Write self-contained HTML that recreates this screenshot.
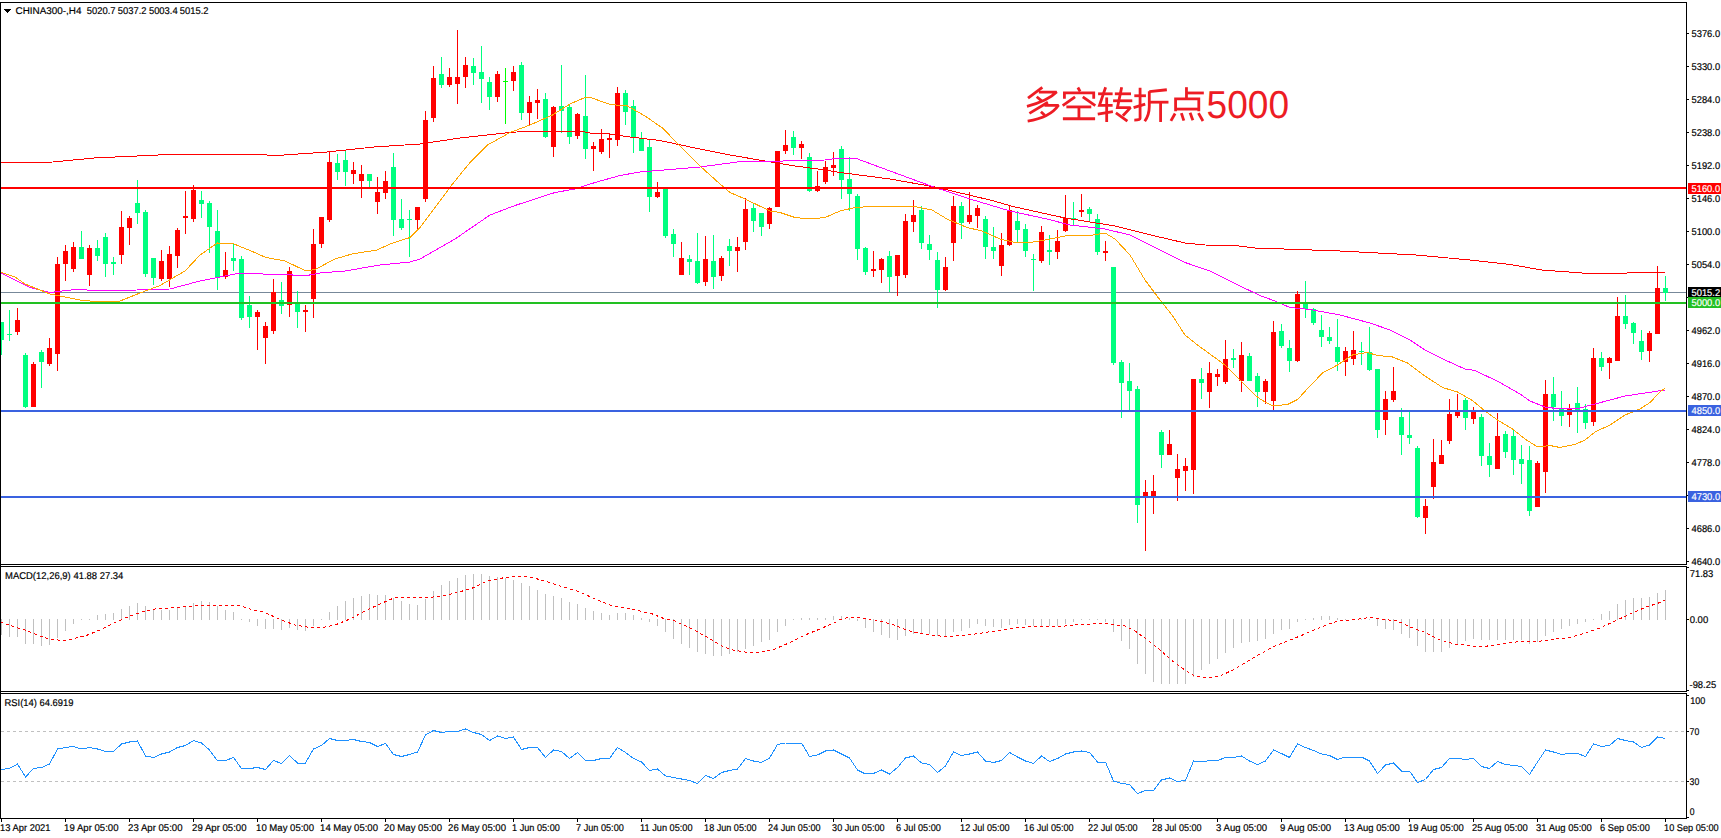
<!DOCTYPE html><html><head><meta charset="utf-8"><title>CHINA300 H4</title>
<style>html,body{margin:0;padding:0;background:#fff;overflow:hidden}svg{display:block}text{font-family:"Liberation Sans",sans-serif;font-size:9.8px;fill:#000;stroke:#000;stroke-width:0.18px;text-rendering:geometricPrecision}</style></head><body>
<svg width="1721" height="838" viewBox="0 0 1721 838">
<rect x="0" y="0" width="1721" height="838" fill="#fff"/>
<defs><clipPath id="cm"><rect x="1" y="3" width="1685" height="561"/></clipPath><clipPath id="c2"><rect x="1" y="567" width="1685" height="124"/></clipPath><clipPath id="c3"><rect x="1" y="694" width="1685" height="124"/></clipPath></defs>
<g clip-path="url(#cm)">
<rect x="1" y="292" width="1685" height="1" fill="#778899" shape-rendering="crispEdges"/>
<g shape-rendering="crispEdges">
<rect x="1" y="322" width="1" height="33" fill="#00ff7f"/>
<rect x="-1" y="322" width="5" height="18" fill="#00ff7f"/>
<rect x="9" y="310" width="1" height="31" fill="#00ff7f"/>
<rect x="7" y="334" width="5" height="1" fill="#00ff7f"/>
<rect x="17" y="308" width="1" height="27" fill="#ff0000"/>
<rect x="15" y="320" width="5" height="12" fill="#ff0000"/>
<rect x="25" y="353" width="1" height="55" fill="#00ff7f"/>
<rect x="23" y="355" width="5" height="52" fill="#00ff7f"/>
<rect x="33" y="362" width="1" height="45" fill="#ff0000"/>
<rect x="31" y="364" width="5" height="43" fill="#ff0000"/>
<rect x="41" y="350" width="1" height="38" fill="#00ff7f"/>
<rect x="39" y="352" width="5" height="10" fill="#00ff7f"/>
<rect x="49" y="338" width="1" height="28" fill="#ff0000"/>
<rect x="47" y="348" width="5" height="16" fill="#ff0000"/>
<rect x="57" y="257" width="1" height="114" fill="#ff0000"/>
<rect x="55" y="264" width="5" height="90" fill="#ff0000"/>
<rect x="65" y="245" width="1" height="36" fill="#ff0000"/>
<rect x="63" y="251" width="5" height="13" fill="#ff0000"/>
<rect x="73" y="242" width="1" height="30" fill="#ff0000"/>
<rect x="71" y="247" width="5" height="22" fill="#ff0000"/>
<rect x="81" y="231" width="1" height="28" fill="#00ff7f"/>
<rect x="79" y="247" width="5" height="12" fill="#00ff7f"/>
<rect x="89" y="245" width="1" height="41" fill="#ff0000"/>
<rect x="87" y="248" width="5" height="27" fill="#ff0000"/>
<rect x="97" y="240" width="1" height="21" fill="#00ff7f"/>
<rect x="95" y="248" width="5" height="8" fill="#00ff7f"/>
<rect x="105" y="233" width="1" height="44" fill="#00ff7f"/>
<rect x="103" y="237" width="5" height="27" fill="#00ff7f"/>
<rect x="113" y="257" width="1" height="18" fill="#00ff7f"/>
<rect x="111" y="262" width="5" height="2" fill="#00ff7f"/>
<rect x="121" y="211" width="1" height="53" fill="#ff0000"/>
<rect x="119" y="227" width="5" height="28" fill="#ff0000"/>
<rect x="129" y="216" width="1" height="29" fill="#ff0000"/>
<rect x="127" y="218" width="5" height="10" fill="#ff0000"/>
<rect x="137" y="180" width="1" height="44" fill="#00ff7f"/>
<rect x="135" y="203" width="5" height="10" fill="#00ff7f"/>
<rect x="145" y="210" width="1" height="67" fill="#00ff7f"/>
<rect x="143" y="212" width="5" height="62" fill="#00ff7f"/>
<rect x="153" y="258" width="1" height="27" fill="#00ff7f"/>
<rect x="151" y="258" width="5" height="20" fill="#00ff7f"/>
<rect x="161" y="250" width="1" height="31" fill="#ff0000"/>
<rect x="159" y="261" width="5" height="18" fill="#ff0000"/>
<rect x="169" y="246" width="1" height="41" fill="#ff0000"/>
<rect x="167" y="254" width="5" height="25" fill="#ff0000"/>
<rect x="177" y="228" width="1" height="40" fill="#ff0000"/>
<rect x="175" y="230" width="5" height="26" fill="#ff0000"/>
<rect x="185" y="191" width="1" height="43" fill="#ff0000"/>
<rect x="183" y="216" width="5" height="2" fill="#ff0000"/>
<rect x="193" y="185" width="1" height="37" fill="#ff0000"/>
<rect x="191" y="190" width="5" height="29" fill="#ff0000"/>
<rect x="201" y="191" width="1" height="27" fill="#00ff7f"/>
<rect x="199" y="200" width="5" height="4" fill="#00ff7f"/>
<rect x="209" y="201" width="1" height="52" fill="#00ff7f"/>
<rect x="207" y="203" width="5" height="24" fill="#00ff7f"/>
<rect x="217" y="210" width="1" height="80" fill="#00ff7f"/>
<rect x="215" y="231" width="5" height="47" fill="#00ff7f"/>
<rect x="225" y="252" width="1" height="27" fill="#ff0000"/>
<rect x="223" y="270" width="5" height="7" fill="#ff0000"/>
<rect x="233" y="243" width="1" height="28" fill="#00ff7f"/>
<rect x="231" y="258" width="5" height="3" fill="#00ff7f"/>
<rect x="241" y="256" width="1" height="64" fill="#00ff7f"/>
<rect x="239" y="259" width="5" height="59" fill="#00ff7f"/>
<rect x="249" y="296" width="1" height="32" fill="#00ff7f"/>
<rect x="247" y="305" width="5" height="12" fill="#00ff7f"/>
<rect x="257" y="310" width="1" height="40" fill="#ff0000"/>
<rect x="255" y="312" width="5" height="5" fill="#ff0000"/>
<rect x="265" y="322" width="1" height="42" fill="#ff0000"/>
<rect x="263" y="326" width="5" height="12" fill="#ff0000"/>
<rect x="273" y="279" width="1" height="55" fill="#ff0000"/>
<rect x="271" y="292" width="5" height="39" fill="#ff0000"/>
<rect x="281" y="282" width="1" height="32" fill="#00ff7f"/>
<rect x="279" y="300" width="5" height="6" fill="#00ff7f"/>
<rect x="289" y="267" width="1" height="50" fill="#ff0000"/>
<rect x="287" y="271" width="5" height="34" fill="#ff0000"/>
<rect x="297" y="291" width="1" height="37" fill="#00ff7f"/>
<rect x="295" y="302" width="5" height="10" fill="#00ff7f"/>
<rect x="305" y="305" width="1" height="27" fill="#ff0000"/>
<rect x="303" y="310" width="5" height="2" fill="#ff0000"/>
<rect x="313" y="229" width="1" height="89" fill="#ff0000"/>
<rect x="311" y="244" width="5" height="55" fill="#ff0000"/>
<rect x="321" y="217" width="1" height="31" fill="#ff0000"/>
<rect x="319" y="217" width="5" height="27" fill="#ff0000"/>
<rect x="329" y="151" width="1" height="71" fill="#ff0000"/>
<rect x="327" y="162" width="5" height="58" fill="#ff0000"/>
<rect x="337" y="154" width="1" height="26" fill="#00ff7f"/>
<rect x="335" y="163" width="5" height="9" fill="#00ff7f"/>
<rect x="345" y="150" width="1" height="36" fill="#00ff7f"/>
<rect x="343" y="160" width="5" height="12" fill="#00ff7f"/>
<rect x="353" y="162" width="1" height="22" fill="#ff0000"/>
<rect x="351" y="170" width="5" height="4" fill="#ff0000"/>
<rect x="361" y="165" width="1" height="33" fill="#ff0000"/>
<rect x="359" y="174" width="5" height="7" fill="#ff0000"/>
<rect x="369" y="174" width="1" height="13" fill="#00ff7f"/>
<rect x="367" y="174" width="5" height="7" fill="#00ff7f"/>
<rect x="377" y="177" width="1" height="37" fill="#ff0000"/>
<rect x="375" y="192" width="5" height="10" fill="#ff0000"/>
<rect x="385" y="171" width="1" height="28" fill="#ff0000"/>
<rect x="383" y="181" width="5" height="12" fill="#ff0000"/>
<rect x="393" y="153" width="1" height="83" fill="#00ff7f"/>
<rect x="391" y="167" width="5" height="53" fill="#00ff7f"/>
<rect x="401" y="199" width="1" height="31" fill="#00ff7f"/>
<rect x="399" y="219" width="5" height="9" fill="#00ff7f"/>
<rect x="409" y="210" width="1" height="47" fill="#00ff7f"/>
<rect x="407" y="219" width="5" height="1" fill="#00ff7f"/>
<rect x="417" y="207" width="1" height="22" fill="#ff0000"/>
<rect x="415" y="207" width="5" height="13" fill="#ff0000"/>
<rect x="425" y="111" width="1" height="91" fill="#ff0000"/>
<rect x="423" y="120" width="5" height="79" fill="#ff0000"/>
<rect x="433" y="66" width="1" height="56" fill="#ff0000"/>
<rect x="431" y="78" width="5" height="40" fill="#ff0000"/>
<rect x="441" y="57" width="1" height="31" fill="#00ff7f"/>
<rect x="439" y="74" width="5" height="11" fill="#00ff7f"/>
<rect x="449" y="68" width="1" height="19" fill="#ff0000"/>
<rect x="447" y="77" width="5" height="8" fill="#ff0000"/>
<rect x="457" y="30" width="1" height="74" fill="#ff0000"/>
<rect x="455" y="77" width="5" height="7" fill="#ff0000"/>
<rect x="465" y="57" width="1" height="31" fill="#ff0000"/>
<rect x="463" y="65" width="5" height="12" fill="#ff0000"/>
<rect x="473" y="58" width="1" height="27" fill="#00ff7f"/>
<rect x="471" y="66" width="5" height="7" fill="#00ff7f"/>
<rect x="481" y="46" width="1" height="57" fill="#00ff7f"/>
<rect x="479" y="72" width="5" height="7" fill="#00ff7f"/>
<rect x="489" y="77" width="1" height="33" fill="#00ff7f"/>
<rect x="487" y="82" width="5" height="15" fill="#00ff7f"/>
<rect x="497" y="71" width="1" height="31" fill="#ff0000"/>
<rect x="495" y="74" width="5" height="23" fill="#ff0000"/>
<rect x="505" y="68" width="1" height="56" fill="#00ff00"/>
<rect x="503" y="81" width="5" height="1" fill="#00ff00"/>
<rect x="513" y="66" width="1" height="25" fill="#ff0000"/>
<rect x="511" y="72" width="5" height="9" fill="#ff0000"/>
<rect x="521" y="62" width="1" height="58" fill="#00ff7f"/>
<rect x="519" y="65" width="5" height="48" fill="#00ff7f"/>
<rect x="529" y="96" width="1" height="29" fill="#ff0000"/>
<rect x="527" y="102" width="5" height="11" fill="#ff0000"/>
<rect x="537" y="89" width="1" height="30" fill="#ff0000"/>
<rect x="535" y="100" width="5" height="3" fill="#ff0000"/>
<rect x="545" y="93" width="1" height="45" fill="#00ff7f"/>
<rect x="543" y="99" width="5" height="38" fill="#00ff7f"/>
<rect x="553" y="106" width="1" height="51" fill="#ff0000"/>
<rect x="551" y="107" width="5" height="40" fill="#ff0000"/>
<rect x="561" y="65" width="1" height="68" fill="#00ff7f"/>
<rect x="559" y="106" width="5" height="5" fill="#00ff7f"/>
<rect x="569" y="105" width="1" height="39" fill="#00ff7f"/>
<rect x="567" y="107" width="5" height="30" fill="#00ff7f"/>
<rect x="577" y="113" width="1" height="26" fill="#ff0000"/>
<rect x="575" y="114" width="5" height="22" fill="#ff0000"/>
<rect x="585" y="75" width="1" height="84" fill="#00ff7f"/>
<rect x="583" y="116" width="5" height="33" fill="#00ff7f"/>
<rect x="593" y="142" width="1" height="29" fill="#ff0000"/>
<rect x="591" y="146" width="5" height="3" fill="#ff0000"/>
<rect x="601" y="129" width="1" height="25" fill="#ff0000"/>
<rect x="599" y="139" width="5" height="13" fill="#ff0000"/>
<rect x="609" y="133" width="1" height="25" fill="#ff0000"/>
<rect x="607" y="138" width="5" height="2" fill="#ff0000"/>
<rect x="617" y="87" width="1" height="59" fill="#ff0000"/>
<rect x="615" y="93" width="5" height="47" fill="#ff0000"/>
<rect x="625" y="90" width="1" height="35" fill="#00ff7f"/>
<rect x="623" y="93" width="5" height="19" fill="#00ff7f"/>
<rect x="633" y="100" width="1" height="53" fill="#00ff7f"/>
<rect x="631" y="106" width="5" height="32" fill="#00ff7f"/>
<rect x="641" y="132" width="1" height="19" fill="#00ff7f"/>
<rect x="639" y="138" width="5" height="13" fill="#00ff7f"/>
<rect x="649" y="140" width="1" height="72" fill="#00ff7f"/>
<rect x="647" y="147" width="5" height="50" fill="#00ff7f"/>
<rect x="657" y="182" width="1" height="16" fill="#ff0000"/>
<rect x="655" y="192" width="5" height="5" fill="#ff0000"/>
<rect x="665" y="187" width="1" height="51" fill="#00ff7f"/>
<rect x="663" y="189" width="5" height="47" fill="#00ff7f"/>
<rect x="673" y="229" width="1" height="28" fill="#00ff7f"/>
<rect x="671" y="234" width="5" height="10" fill="#00ff7f"/>
<rect x="681" y="242" width="1" height="33" fill="#ff0000"/>
<rect x="679" y="258" width="5" height="17" fill="#ff0000"/>
<rect x="689" y="255" width="1" height="20" fill="#00ff7f"/>
<rect x="687" y="259" width="5" height="3" fill="#00ff7f"/>
<rect x="697" y="233" width="1" height="51" fill="#00ff7f"/>
<rect x="695" y="261" width="5" height="22" fill="#00ff7f"/>
<rect x="705" y="236" width="1" height="50" fill="#ff0000"/>
<rect x="703" y="259" width="5" height="23" fill="#ff0000"/>
<rect x="713" y="235" width="1" height="54" fill="#00ff7f"/>
<rect x="711" y="261" width="5" height="16" fill="#00ff7f"/>
<rect x="721" y="256" width="1" height="25" fill="#ff0000"/>
<rect x="719" y="258" width="5" height="18" fill="#ff0000"/>
<rect x="729" y="239" width="1" height="27" fill="#00ff7f"/>
<rect x="727" y="246" width="5" height="5" fill="#00ff7f"/>
<rect x="737" y="237" width="1" height="35" fill="#ff0000"/>
<rect x="735" y="247" width="5" height="4" fill="#ff0000"/>
<rect x="745" y="198" width="1" height="52" fill="#ff0000"/>
<rect x="743" y="209" width="5" height="33" fill="#ff0000"/>
<rect x="753" y="203" width="1" height="29" fill="#00ff7f"/>
<rect x="751" y="208" width="5" height="13" fill="#00ff7f"/>
<rect x="761" y="213" width="1" height="23" fill="#00ff7f"/>
<rect x="759" y="213" width="5" height="14" fill="#00ff7f"/>
<rect x="769" y="207" width="1" height="22" fill="#ff0000"/>
<rect x="767" y="208" width="5" height="16" fill="#ff0000"/>
<rect x="777" y="151" width="1" height="56" fill="#ff0000"/>
<rect x="775" y="151" width="5" height="56" fill="#ff0000"/>
<rect x="785" y="130" width="1" height="24" fill="#ff0000"/>
<rect x="783" y="145" width="5" height="6" fill="#ff0000"/>
<rect x="793" y="131" width="1" height="24" fill="#00ff7f"/>
<rect x="791" y="137" width="5" height="11" fill="#00ff7f"/>
<rect x="801" y="141" width="1" height="18" fill="#ff0000"/>
<rect x="799" y="144" width="5" height="4" fill="#ff0000"/>
<rect x="809" y="153" width="1" height="39" fill="#00ff7f"/>
<rect x="807" y="157" width="5" height="34" fill="#00ff7f"/>
<rect x="817" y="171" width="1" height="21" fill="#ff0000"/>
<rect x="815" y="186" width="5" height="5" fill="#ff0000"/>
<rect x="825" y="161" width="1" height="23" fill="#ff0000"/>
<rect x="823" y="167" width="5" height="15" fill="#ff0000"/>
<rect x="833" y="152" width="1" height="24" fill="#ff0000"/>
<rect x="831" y="165" width="5" height="3" fill="#ff0000"/>
<rect x="841" y="146" width="1" height="53" fill="#00ff7f"/>
<rect x="839" y="149" width="5" height="31" fill="#00ff7f"/>
<rect x="849" y="157" width="1" height="54" fill="#00ff7f"/>
<rect x="847" y="179" width="5" height="15" fill="#00ff7f"/>
<rect x="857" y="194" width="1" height="66" fill="#00ff7f"/>
<rect x="855" y="196" width="5" height="53" fill="#00ff7f"/>
<rect x="865" y="247" width="1" height="28" fill="#00ff7f"/>
<rect x="863" y="248" width="5" height="24" fill="#00ff7f"/>
<rect x="873" y="251" width="1" height="26" fill="#ff0000"/>
<rect x="871" y="269" width="5" height="2" fill="#ff0000"/>
<rect x="881" y="258" width="1" height="25" fill="#ff0000"/>
<rect x="879" y="259" width="5" height="11" fill="#ff0000"/>
<rect x="889" y="251" width="1" height="41" fill="#00ff7f"/>
<rect x="887" y="256" width="5" height="21" fill="#00ff7f"/>
<rect x="897" y="255" width="1" height="41" fill="#ff0000"/>
<rect x="895" y="255" width="5" height="21" fill="#ff0000"/>
<rect x="905" y="214" width="1" height="64" fill="#ff0000"/>
<rect x="903" y="221" width="5" height="54" fill="#ff0000"/>
<rect x="913" y="200" width="1" height="32" fill="#ff0000"/>
<rect x="911" y="215" width="5" height="7" fill="#ff0000"/>
<rect x="921" y="206" width="1" height="43" fill="#00ff7f"/>
<rect x="919" y="210" width="5" height="33" fill="#00ff7f"/>
<rect x="929" y="235" width="1" height="25" fill="#00ff7f"/>
<rect x="927" y="244" width="5" height="6" fill="#00ff7f"/>
<rect x="937" y="252" width="1" height="56" fill="#00ff7f"/>
<rect x="935" y="260" width="5" height="30" fill="#00ff7f"/>
<rect x="945" y="257" width="1" height="34" fill="#ff0000"/>
<rect x="943" y="267" width="5" height="23" fill="#ff0000"/>
<rect x="953" y="196" width="1" height="65" fill="#ff0000"/>
<rect x="951" y="206" width="5" height="37" fill="#ff0000"/>
<rect x="961" y="202" width="1" height="37" fill="#00ff7f"/>
<rect x="959" y="206" width="5" height="17" fill="#00ff7f"/>
<rect x="969" y="192" width="1" height="32" fill="#ff0000"/>
<rect x="967" y="215" width="5" height="7" fill="#ff0000"/>
<rect x="977" y="205" width="1" height="23" fill="#ff0000"/>
<rect x="975" y="208" width="5" height="8" fill="#ff0000"/>
<rect x="985" y="216" width="1" height="43" fill="#00ff7f"/>
<rect x="983" y="219" width="5" height="28" fill="#00ff7f"/>
<rect x="993" y="227" width="1" height="32" fill="#00ff7f"/>
<rect x="991" y="247" width="5" height="4" fill="#00ff7f"/>
<rect x="1001" y="233" width="1" height="43" fill="#ff0000"/>
<rect x="999" y="245" width="5" height="21" fill="#ff0000"/>
<rect x="1009" y="205" width="1" height="41" fill="#ff0000"/>
<rect x="1007" y="210" width="5" height="35" fill="#ff0000"/>
<rect x="1017" y="211" width="1" height="31" fill="#00ff7f"/>
<rect x="1015" y="221" width="5" height="9" fill="#00ff7f"/>
<rect x="1025" y="224" width="1" height="33" fill="#00ff7f"/>
<rect x="1023" y="229" width="5" height="22" fill="#00ff7f"/>
<rect x="1033" y="254" width="1" height="37" fill="#00ff7f"/>
<rect x="1031" y="259" width="5" height="1" fill="#00ff7f"/>
<rect x="1041" y="226" width="1" height="37" fill="#ff0000"/>
<rect x="1039" y="232" width="5" height="29" fill="#ff0000"/>
<rect x="1049" y="235" width="1" height="30" fill="#00ff7f"/>
<rect x="1047" y="250" width="5" height="2" fill="#00ff7f"/>
<rect x="1057" y="230" width="1" height="29" fill="#ff0000"/>
<rect x="1055" y="241" width="5" height="11" fill="#ff0000"/>
<rect x="1065" y="195" width="1" height="37" fill="#ff0000"/>
<rect x="1063" y="218" width="5" height="13" fill="#ff0000"/>
<rect x="1073" y="202" width="1" height="23" fill="#00ff7f"/>
<rect x="1071" y="218" width="5" height="1" fill="#00ff7f"/>
<rect x="1081" y="194" width="1" height="23" fill="#ff0000"/>
<rect x="1079" y="210" width="5" height="2" fill="#ff0000"/>
<rect x="1089" y="207" width="1" height="14" fill="#00ff7f"/>
<rect x="1087" y="209" width="5" height="5" fill="#00ff7f"/>
<rect x="1097" y="214" width="1" height="41" fill="#00ff7f"/>
<rect x="1095" y="219" width="5" height="33" fill="#00ff7f"/>
<rect x="1105" y="241" width="1" height="20" fill="#ff0000"/>
<rect x="1103" y="251" width="5" height="2" fill="#ff0000"/>
<rect x="1113" y="267" width="1" height="98" fill="#00ff7f"/>
<rect x="1111" y="267" width="5" height="96" fill="#00ff7f"/>
<rect x="1121" y="360" width="1" height="58" fill="#00ff7f"/>
<rect x="1119" y="362" width="5" height="21" fill="#00ff7f"/>
<rect x="1129" y="363" width="1" height="47" fill="#00ff7f"/>
<rect x="1127" y="381" width="5" height="10" fill="#00ff7f"/>
<rect x="1137" y="386" width="1" height="137" fill="#00ff7f"/>
<rect x="1135" y="389" width="5" height="116" fill="#00ff7f"/>
<rect x="1145" y="480" width="1" height="71" fill="#ff0000"/>
<rect x="1143" y="492" width="5" height="4" fill="#ff0000"/>
<rect x="1153" y="475" width="1" height="39" fill="#ff0000"/>
<rect x="1151" y="491" width="5" height="5" fill="#ff0000"/>
<rect x="1161" y="430" width="1" height="38" fill="#00ff7f"/>
<rect x="1159" y="432" width="5" height="23" fill="#00ff7f"/>
<rect x="1169" y="430" width="1" height="25" fill="#ff0000"/>
<rect x="1167" y="444" width="5" height="11" fill="#ff0000"/>
<rect x="1177" y="454" width="1" height="47" fill="#ff0000"/>
<rect x="1175" y="469" width="5" height="9" fill="#ff0000"/>
<rect x="1185" y="458" width="1" height="33" fill="#ff0000"/>
<rect x="1183" y="466" width="5" height="5" fill="#ff0000"/>
<rect x="1193" y="379" width="1" height="115" fill="#ff0000"/>
<rect x="1191" y="379" width="5" height="91" fill="#ff0000"/>
<rect x="1201" y="368" width="1" height="31" fill="#00ff7f"/>
<rect x="1199" y="379" width="5" height="4" fill="#00ff7f"/>
<rect x="1209" y="362" width="1" height="46" fill="#ff0000"/>
<rect x="1207" y="373" width="5" height="19" fill="#ff0000"/>
<rect x="1217" y="369" width="1" height="17" fill="#ff0000"/>
<rect x="1215" y="374" width="5" height="3" fill="#ff0000"/>
<rect x="1225" y="340" width="1" height="44" fill="#ff0000"/>
<rect x="1223" y="359" width="5" height="23" fill="#ff0000"/>
<rect x="1233" y="349" width="1" height="19" fill="#00ff7f"/>
<rect x="1231" y="358" width="5" height="2" fill="#00ff7f"/>
<rect x="1241" y="342" width="1" height="50" fill="#ff0000"/>
<rect x="1239" y="355" width="5" height="26" fill="#ff0000"/>
<rect x="1249" y="353" width="1" height="28" fill="#00ff7f"/>
<rect x="1247" y="356" width="5" height="25" fill="#00ff7f"/>
<rect x="1257" y="373" width="1" height="34" fill="#00ff7f"/>
<rect x="1255" y="376" width="5" height="16" fill="#00ff7f"/>
<rect x="1265" y="379" width="1" height="25" fill="#ff0000"/>
<rect x="1263" y="381" width="5" height="11" fill="#ff0000"/>
<rect x="1273" y="321" width="1" height="89" fill="#ff0000"/>
<rect x="1271" y="332" width="5" height="69" fill="#ff0000"/>
<rect x="1281" y="324" width="1" height="24" fill="#00ff7f"/>
<rect x="1279" y="331" width="5" height="15" fill="#00ff7f"/>
<rect x="1289" y="340" width="1" height="32" fill="#00ff7f"/>
<rect x="1287" y="348" width="5" height="13" fill="#00ff7f"/>
<rect x="1297" y="291" width="1" height="71" fill="#ff0000"/>
<rect x="1295" y="294" width="5" height="67" fill="#ff0000"/>
<rect x="1305" y="281" width="1" height="37" fill="#00ff7f"/>
<rect x="1303" y="303" width="5" height="6" fill="#00ff7f"/>
<rect x="1313" y="308" width="1" height="17" fill="#00ff7f"/>
<rect x="1311" y="309" width="5" height="14" fill="#00ff7f"/>
<rect x="1321" y="315" width="1" height="32" fill="#00ff7f"/>
<rect x="1319" y="330" width="5" height="7" fill="#00ff7f"/>
<rect x="1329" y="327" width="1" height="17" fill="#00ff7f"/>
<rect x="1327" y="337" width="5" height="4" fill="#00ff7f"/>
<rect x="1337" y="319" width="1" height="52" fill="#00ff7f"/>
<rect x="1335" y="347" width="5" height="15" fill="#00ff7f"/>
<rect x="1345" y="347" width="1" height="29" fill="#ff0000"/>
<rect x="1343" y="351" width="5" height="11" fill="#ff0000"/>
<rect x="1353" y="331" width="1" height="34" fill="#ff0000"/>
<rect x="1351" y="350" width="5" height="9" fill="#ff0000"/>
<rect x="1361" y="342" width="1" height="23" fill="#00ff7f"/>
<rect x="1359" y="351" width="5" height="1" fill="#00ff7f"/>
<rect x="1369" y="327" width="1" height="44" fill="#00ff7f"/>
<rect x="1367" y="352" width="5" height="18" fill="#00ff7f"/>
<rect x="1377" y="369" width="1" height="69" fill="#00ff7f"/>
<rect x="1375" y="369" width="5" height="61" fill="#00ff7f"/>
<rect x="1385" y="391" width="1" height="44" fill="#ff0000"/>
<rect x="1383" y="399" width="5" height="21" fill="#ff0000"/>
<rect x="1393" y="367" width="1" height="35" fill="#ff0000"/>
<rect x="1391" y="391" width="5" height="9" fill="#ff0000"/>
<rect x="1401" y="408" width="1" height="47" fill="#00ff7f"/>
<rect x="1399" y="417" width="5" height="18" fill="#00ff7f"/>
<rect x="1409" y="412" width="1" height="32" fill="#00ff7f"/>
<rect x="1407" y="435" width="5" height="3" fill="#00ff7f"/>
<rect x="1417" y="446" width="1" height="72" fill="#00ff7f"/>
<rect x="1415" y="448" width="5" height="69" fill="#00ff7f"/>
<rect x="1425" y="499" width="1" height="35" fill="#ff0000"/>
<rect x="1423" y="506" width="5" height="12" fill="#ff0000"/>
<rect x="1433" y="439" width="1" height="60" fill="#ff0000"/>
<rect x="1431" y="462" width="5" height="25" fill="#ff0000"/>
<rect x="1441" y="440" width="1" height="24" fill="#ff0000"/>
<rect x="1439" y="455" width="5" height="9" fill="#ff0000"/>
<rect x="1449" y="399" width="1" height="45" fill="#ff0000"/>
<rect x="1447" y="414" width="5" height="27" fill="#ff0000"/>
<rect x="1457" y="394" width="1" height="24" fill="#ff0000"/>
<rect x="1455" y="412" width="5" height="4" fill="#ff0000"/>
<rect x="1465" y="398" width="1" height="32" fill="#00ff7f"/>
<rect x="1463" y="400" width="5" height="18" fill="#00ff7f"/>
<rect x="1473" y="407" width="1" height="17" fill="#ff0000"/>
<rect x="1471" y="412" width="5" height="7" fill="#ff0000"/>
<rect x="1481" y="414" width="1" height="52" fill="#00ff7f"/>
<rect x="1479" y="417" width="5" height="39" fill="#00ff7f"/>
<rect x="1489" y="443" width="1" height="34" fill="#00ff7f"/>
<rect x="1487" y="456" width="5" height="9" fill="#00ff7f"/>
<rect x="1497" y="413" width="1" height="56" fill="#ff0000"/>
<rect x="1495" y="436" width="5" height="33" fill="#ff0000"/>
<rect x="1505" y="431" width="1" height="27" fill="#00ff7f"/>
<rect x="1503" y="434" width="5" height="18" fill="#00ff7f"/>
<rect x="1513" y="430" width="1" height="45" fill="#00ff7f"/>
<rect x="1511" y="436" width="5" height="24" fill="#00ff7f"/>
<rect x="1521" y="445" width="1" height="39" fill="#00ff7f"/>
<rect x="1519" y="459" width="5" height="5" fill="#00ff7f"/>
<rect x="1529" y="446" width="1" height="70" fill="#00ff7f"/>
<rect x="1527" y="460" width="5" height="51" fill="#00ff7f"/>
<rect x="1537" y="461" width="1" height="46" fill="#ff0000"/>
<rect x="1535" y="463" width="5" height="44" fill="#ff0000"/>
<rect x="1545" y="380" width="1" height="113" fill="#ff0000"/>
<rect x="1543" y="394" width="5" height="78" fill="#ff0000"/>
<rect x="1553" y="377" width="1" height="44" fill="#00ff7f"/>
<rect x="1551" y="394" width="5" height="13" fill="#00ff7f"/>
<rect x="1561" y="391" width="1" height="35" fill="#00ff7f"/>
<rect x="1559" y="409" width="5" height="7" fill="#00ff7f"/>
<rect x="1569" y="404" width="1" height="23" fill="#ff0000"/>
<rect x="1567" y="409" width="5" height="6" fill="#ff0000"/>
<rect x="1577" y="387" width="1" height="46" fill="#00ff7f"/>
<rect x="1575" y="403" width="5" height="7" fill="#00ff7f"/>
<rect x="1585" y="404" width="1" height="25" fill="#00ff7f"/>
<rect x="1583" y="409" width="5" height="14" fill="#00ff7f"/>
<rect x="1593" y="348" width="1" height="78" fill="#ff0000"/>
<rect x="1591" y="358" width="5" height="64" fill="#ff0000"/>
<rect x="1601" y="352" width="1" height="19" fill="#00ff7f"/>
<rect x="1599" y="358" width="5" height="9" fill="#00ff7f"/>
<rect x="1609" y="357" width="1" height="22" fill="#ff0000"/>
<rect x="1607" y="358" width="5" height="5" fill="#ff0000"/>
<rect x="1617" y="297" width="1" height="64" fill="#ff0000"/>
<rect x="1615" y="316" width="5" height="45" fill="#ff0000"/>
<rect x="1625" y="295" width="1" height="34" fill="#00ff7f"/>
<rect x="1623" y="316" width="5" height="8" fill="#00ff7f"/>
<rect x="1633" y="322" width="1" height="22" fill="#00ff7f"/>
<rect x="1631" y="323" width="5" height="10" fill="#00ff7f"/>
<rect x="1641" y="330" width="1" height="30" fill="#00ff7f"/>
<rect x="1639" y="341" width="5" height="11" fill="#00ff7f"/>
<rect x="1649" y="331" width="1" height="31" fill="#ff0000"/>
<rect x="1647" y="333" width="5" height="18" fill="#ff0000"/>
<rect x="1657" y="266" width="1" height="68" fill="#ff0000"/>
<rect x="1655" y="288" width="5" height="46" fill="#ff0000"/>
<rect x="1665" y="276" width="1" height="25" fill="#00ff7f"/>
<rect x="1663" y="288" width="5" height="5" fill="#00ff7f"/>
</g>
<polyline points="0,163 53,162 94,158 180,154 261,154 267,155 284,155 327,152 374,147 420,144 460,138 510,132.5 530,131 580,131 590,133 610,134 630,137 660,140.5 695,148 730,155 765,161 795,166 825,170 840,172.5 890,179 935,187 990,200 1015,207 1065,218 1115,226 1155,236 1185,243 1205,245 1235,245.5 1255,248 1270,248.5 1340,251 1416,255 1470,260 1510,264.5 1542,270 1582,273 1627,273 1632,272 1660,272 1665,273" fill="none" stroke="#ff0000" stroke-width="1" shape-rendering="crispEdges" />
<polyline points="0,272.5 15,280 30,287.5 50,292.5 75,289.5 110,291 150,289.5 170,289 200,281 240,273 260,273 265,274.5 290,274.5 295,275.5 307,275.5 320,273 345,271 380,265 410,262 420,259 455,239 490,215 515,205.5 535,199 555,192.5 575,189 595,182.5 620,175.5 640,172 670,169.5 700,167 745,161 770,162 790,160.5 825,160 840,158 855,158 890,171 935,187.5 970,199 1010,211 1047,219 1070,225 1105,229 1130,235 1160,250 1185,262.5 1210,271 1240,286 1260,295.5 1275,301 1290,307.5 1310,309.5 1340,315 1370,323 1390,330 1410,340 1425,350 1445,360 1465,369 1475,370.5 1500,382.5 1520,394 1530,401 1545,407 1560,409 1580,408 1595,404 1610,400 1625,396 1645,393 1665,390" fill="none" stroke="#ff00ff" stroke-width="1" shape-rendering="crispEdges" />
<polyline points="0,272 15,277 25,284 50,294 60,296 80,300 90,301 120,301 140,293 160,285.5 185,271 200,255 217.5,243 234,244 250,250.5 266,257.5 285,261 306,271 315,269.5 335,259 352,254 377,250 390,244 410,237.5 420,227.5 452.5,184 470,162.5 487.5,145 510,132.5 530,125 552.5,115 570,104 585,97.5 592,98 610,104.5 627.5,106 645,116 662.5,128 680,146 700,166 720,184 730,192.5 745,199 770,211 780,212.5 795,217.5 810,219 825,217.5 840,211 855,207.5 880,206 897,207 912,206 932,210 947,219 967,227.5 982,231 1000,239 1015,242.5 1027,243 1045,240 1065,236 1090,235.5 1105,233 1115,239 1130,255 1145,280 1160,300 1172,315 1185,335 1197.5,345 1225,365 1255,395 1260,399 1272.5,406 1287.5,404.5 1297.5,399.5 1310,386 1322.5,373 1337.5,365 1352.5,355 1367.5,352.5 1377.5,355.5 1392.5,357 1407.5,363 1425,376 1442.5,387.5 1457.5,392 1472.5,400.5 1485,411 1497.5,420 1512.5,429 1525,439 1537.5,447 1550,445.5 1560,447.5 1575,444.5 1585,440 1595,432 1610,425 1625,415 1640,409 1650,402.5 1660,392 1665,388" fill="none" stroke="#ffa500" stroke-width="1" shape-rendering="crispEdges" />
<g shape-rendering="crispEdges">
<rect x="1" y="187" width="1685" height="2" fill="#ff0000"/>
<rect x="1" y="302" width="1685" height="2" fill="#22c022"/>
<rect x="1" y="410" width="1685" height="2" fill="#3a62e0"/>
<rect x="1" y="496" width="1685" height="2" fill="#3a62e0"/>
</g>
</g>
<g clip-path="url(#c2)">
<g shape-rendering="crispEdges">
<rect x="1" y="619" width="1" height="16" fill="#c0c0c0"/>
<rect x="9" y="619" width="1" height="18" fill="#c0c0c0"/>
<rect x="17" y="619" width="1" height="18" fill="#c0c0c0"/>
<rect x="25" y="619" width="1" height="25" fill="#c0c0c0"/>
<rect x="33" y="619" width="1" height="25" fill="#c0c0c0"/>
<rect x="41" y="619" width="1" height="27" fill="#c0c0c0"/>
<rect x="49" y="619" width="1" height="26" fill="#c0c0c0"/>
<rect x="57" y="619" width="1" height="19" fill="#c0c0c0"/>
<rect x="65" y="619" width="1" height="12" fill="#c0c0c0"/>
<rect x="73" y="619" width="1" height="5" fill="#c0c0c0"/>
<rect x="81" y="619" width="1" height="1" fill="#c0c0c0"/>
<rect x="89" y="619" width="1" height="1" fill="#c0c0c0"/>
<rect x="97" y="615" width="1" height="5" fill="#c0c0c0"/>
<rect x="105" y="614" width="1" height="6" fill="#c0c0c0"/>
<rect x="113" y="613" width="1" height="7" fill="#c0c0c0"/>
<rect x="121" y="609" width="1" height="11" fill="#c0c0c0"/>
<rect x="129" y="606" width="1" height="14" fill="#c0c0c0"/>
<rect x="137" y="603" width="1" height="17" fill="#c0c0c0"/>
<rect x="145" y="606" width="1" height="14" fill="#c0c0c0"/>
<rect x="153" y="609" width="1" height="11" fill="#c0c0c0"/>
<rect x="161" y="610" width="1" height="10" fill="#c0c0c0"/>
<rect x="169" y="610" width="1" height="10" fill="#c0c0c0"/>
<rect x="177" y="607" width="1" height="13" fill="#c0c0c0"/>
<rect x="185" y="606" width="1" height="14" fill="#c0c0c0"/>
<rect x="193" y="603" width="1" height="17" fill="#c0c0c0"/>
<rect x="201" y="601" width="1" height="19" fill="#c0c0c0"/>
<rect x="209" y="602" width="1" height="18" fill="#c0c0c0"/>
<rect x="217" y="606" width="1" height="14" fill="#c0c0c0"/>
<rect x="225" y="610" width="1" height="10" fill="#c0c0c0"/>
<rect x="233" y="612" width="1" height="8" fill="#c0c0c0"/>
<rect x="241" y="619" width="1" height="1" fill="#c0c0c0"/>
<rect x="249" y="619" width="1" height="3" fill="#c0c0c0"/>
<rect x="257" y="619" width="1" height="7" fill="#c0c0c0"/>
<rect x="265" y="619" width="1" height="10" fill="#c0c0c0"/>
<rect x="273" y="619" width="1" height="10" fill="#c0c0c0"/>
<rect x="281" y="619" width="1" height="11" fill="#c0c0c0"/>
<rect x="289" y="619" width="1" height="9" fill="#c0c0c0"/>
<rect x="297" y="619" width="1" height="11" fill="#c0c0c0"/>
<rect x="305" y="619" width="1" height="12" fill="#c0c0c0"/>
<rect x="313" y="619" width="1" height="7" fill="#c0c0c0"/>
<rect x="321" y="619" width="1" height="1" fill="#c0c0c0"/>
<rect x="329" y="612" width="1" height="8" fill="#c0c0c0"/>
<rect x="337" y="606" width="1" height="14" fill="#c0c0c0"/>
<rect x="345" y="601" width="1" height="19" fill="#c0c0c0"/>
<rect x="353" y="598" width="1" height="22" fill="#c0c0c0"/>
<rect x="361" y="596" width="1" height="24" fill="#c0c0c0"/>
<rect x="369" y="594" width="1" height="26" fill="#c0c0c0"/>
<rect x="377" y="595" width="1" height="25" fill="#c0c0c0"/>
<rect x="385" y="595" width="1" height="25" fill="#c0c0c0"/>
<rect x="393" y="598" width="1" height="22" fill="#c0c0c0"/>
<rect x="401" y="601" width="1" height="19" fill="#c0c0c0"/>
<rect x="409" y="604" width="1" height="16" fill="#c0c0c0"/>
<rect x="417" y="605" width="1" height="15" fill="#c0c0c0"/>
<rect x="425" y="599" width="1" height="21" fill="#c0c0c0"/>
<rect x="433" y="591" width="1" height="29" fill="#c0c0c0"/>
<rect x="441" y="585" width="1" height="35" fill="#c0c0c0"/>
<rect x="449" y="581" width="1" height="39" fill="#c0c0c0"/>
<rect x="457" y="578" width="1" height="42" fill="#c0c0c0"/>
<rect x="465" y="575" width="1" height="45" fill="#c0c0c0"/>
<rect x="473" y="574" width="1" height="46" fill="#c0c0c0"/>
<rect x="481" y="574" width="1" height="46" fill="#c0c0c0"/>
<rect x="489" y="576" width="1" height="44" fill="#c0c0c0"/>
<rect x="497" y="577" width="1" height="43" fill="#c0c0c0"/>
<rect x="505" y="578" width="1" height="42" fill="#c0c0c0"/>
<rect x="513" y="580" width="1" height="40" fill="#c0c0c0"/>
<rect x="521" y="583" width="1" height="37" fill="#c0c0c0"/>
<rect x="529" y="586" width="1" height="34" fill="#c0c0c0"/>
<rect x="537" y="590" width="1" height="30" fill="#c0c0c0"/>
<rect x="545" y="594" width="1" height="26" fill="#c0c0c0"/>
<rect x="553" y="596" width="1" height="24" fill="#c0c0c0"/>
<rect x="561" y="598" width="1" height="22" fill="#c0c0c0"/>
<rect x="569" y="602" width="1" height="18" fill="#c0c0c0"/>
<rect x="577" y="604" width="1" height="16" fill="#c0c0c0"/>
<rect x="585" y="608" width="1" height="12" fill="#c0c0c0"/>
<rect x="593" y="611" width="1" height="9" fill="#c0c0c0"/>
<rect x="601" y="613" width="1" height="7" fill="#c0c0c0"/>
<rect x="609" y="615" width="1" height="5" fill="#c0c0c0"/>
<rect x="617" y="613" width="1" height="7" fill="#c0c0c0"/>
<rect x="625" y="613" width="1" height="7" fill="#c0c0c0"/>
<rect x="633" y="615" width="1" height="5" fill="#c0c0c0"/>
<rect x="641" y="618" width="1" height="2" fill="#c0c0c0"/>
<rect x="649" y="619" width="1" height="3" fill="#c0c0c0"/>
<rect x="657" y="619" width="1" height="7" fill="#c0c0c0"/>
<rect x="665" y="619" width="1" height="13" fill="#c0c0c0"/>
<rect x="673" y="619" width="1" height="20" fill="#c0c0c0"/>
<rect x="681" y="619" width="1" height="25" fill="#c0c0c0"/>
<rect x="689" y="619" width="1" height="29" fill="#c0c0c0"/>
<rect x="697" y="619" width="1" height="33" fill="#c0c0c0"/>
<rect x="705" y="619" width="1" height="35" fill="#c0c0c0"/>
<rect x="713" y="619" width="1" height="37" fill="#c0c0c0"/>
<rect x="721" y="619" width="1" height="37" fill="#c0c0c0"/>
<rect x="729" y="619" width="1" height="35" fill="#c0c0c0"/>
<rect x="737" y="619" width="1" height="33" fill="#c0c0c0"/>
<rect x="745" y="619" width="1" height="30" fill="#c0c0c0"/>
<rect x="753" y="619" width="1" height="27" fill="#c0c0c0"/>
<rect x="761" y="619" width="1" height="23" fill="#c0c0c0"/>
<rect x="769" y="619" width="1" height="21" fill="#c0c0c0"/>
<rect x="777" y="619" width="1" height="13" fill="#c0c0c0"/>
<rect x="785" y="619" width="1" height="7" fill="#c0c0c0"/>
<rect x="793" y="619" width="1" height="1" fill="#c0c0c0"/>
<rect x="801" y="618" width="1" height="2" fill="#c0c0c0"/>
<rect x="809" y="618" width="1" height="2" fill="#c0c0c0"/>
<rect x="817" y="618" width="1" height="2" fill="#c0c0c0"/>
<rect x="825" y="618" width="1" height="2" fill="#c0c0c0"/>
<rect x="833" y="616" width="1" height="4" fill="#c0c0c0"/>
<rect x="841" y="616" width="1" height="4" fill="#c0c0c0"/>
<rect x="849" y="618" width="1" height="2" fill="#c0c0c0"/>
<rect x="857" y="619" width="1" height="2" fill="#c0c0c0"/>
<rect x="865" y="619" width="1" height="9" fill="#c0c0c0"/>
<rect x="873" y="619" width="1" height="13" fill="#c0c0c0"/>
<rect x="881" y="619" width="1" height="16" fill="#c0c0c0"/>
<rect x="889" y="619" width="1" height="19" fill="#c0c0c0"/>
<rect x="897" y="619" width="1" height="21" fill="#c0c0c0"/>
<rect x="905" y="619" width="1" height="17" fill="#c0c0c0"/>
<rect x="913" y="619" width="1" height="15" fill="#c0c0c0"/>
<rect x="921" y="619" width="1" height="14" fill="#c0c0c0"/>
<rect x="929" y="619" width="1" height="15" fill="#c0c0c0"/>
<rect x="937" y="619" width="1" height="17" fill="#c0c0c0"/>
<rect x="945" y="619" width="1" height="18" fill="#c0c0c0"/>
<rect x="953" y="619" width="1" height="13" fill="#c0c0c0"/>
<rect x="961" y="619" width="1" height="12" fill="#c0c0c0"/>
<rect x="969" y="619" width="1" height="9" fill="#c0c0c0"/>
<rect x="977" y="619" width="1" height="5" fill="#c0c0c0"/>
<rect x="985" y="619" width="1" height="7" fill="#c0c0c0"/>
<rect x="993" y="619" width="1" height="8" fill="#c0c0c0"/>
<rect x="1001" y="619" width="1" height="9" fill="#c0c0c0"/>
<rect x="1009" y="619" width="1" height="6" fill="#c0c0c0"/>
<rect x="1017" y="619" width="1" height="5" fill="#c0c0c0"/>
<rect x="1025" y="619" width="1" height="6" fill="#c0c0c0"/>
<rect x="1033" y="619" width="1" height="7" fill="#c0c0c0"/>
<rect x="1041" y="619" width="1" height="7" fill="#c0c0c0"/>
<rect x="1049" y="619" width="1" height="7" fill="#c0c0c0"/>
<rect x="1057" y="619" width="1" height="7" fill="#c0c0c0"/>
<rect x="1065" y="619" width="1" height="5" fill="#c0c0c0"/>
<rect x="1073" y="619" width="1" height="3" fill="#c0c0c0"/>
<rect x="1081" y="619" width="1" height="1" fill="#c0c0c0"/>
<rect x="1089" y="619" width="1" height="1" fill="#c0c0c0"/>
<rect x="1097" y="619" width="1" height="1" fill="#c0c0c0"/>
<rect x="1105" y="619" width="1" height="3" fill="#c0c0c0"/>
<rect x="1113" y="619" width="1" height="13" fill="#c0c0c0"/>
<rect x="1121" y="619" width="1" height="22" fill="#c0c0c0"/>
<rect x="1129" y="619" width="1" height="30" fill="#c0c0c0"/>
<rect x="1137" y="619" width="1" height="45" fill="#c0c0c0"/>
<rect x="1145" y="619" width="1" height="55" fill="#c0c0c0"/>
<rect x="1153" y="619" width="1" height="63" fill="#c0c0c0"/>
<rect x="1161" y="619" width="1" height="65" fill="#c0c0c0"/>
<rect x="1169" y="619" width="1" height="65" fill="#c0c0c0"/>
<rect x="1177" y="619" width="1" height="65" fill="#c0c0c0"/>
<rect x="1185" y="619" width="1" height="65" fill="#c0c0c0"/>
<rect x="1193" y="619" width="1" height="58" fill="#c0c0c0"/>
<rect x="1201" y="619" width="1" height="51" fill="#c0c0c0"/>
<rect x="1209" y="619" width="1" height="45" fill="#c0c0c0"/>
<rect x="1217" y="619" width="1" height="40" fill="#c0c0c0"/>
<rect x="1225" y="619" width="1" height="34" fill="#c0c0c0"/>
<rect x="1233" y="619" width="1" height="29" fill="#c0c0c0"/>
<rect x="1241" y="619" width="1" height="24" fill="#c0c0c0"/>
<rect x="1249" y="619" width="1" height="23" fill="#c0c0c0"/>
<rect x="1257" y="619" width="1" height="22" fill="#c0c0c0"/>
<rect x="1265" y="619" width="1" height="20" fill="#c0c0c0"/>
<rect x="1273" y="619" width="1" height="15" fill="#c0c0c0"/>
<rect x="1281" y="619" width="1" height="11" fill="#c0c0c0"/>
<rect x="1289" y="619" width="1" height="10" fill="#c0c0c0"/>
<rect x="1297" y="619" width="1" height="3" fill="#c0c0c0"/>
<rect x="1305" y="619" width="1" height="1" fill="#c0c0c0"/>
<rect x="1313" y="618" width="1" height="2" fill="#c0c0c0"/>
<rect x="1321" y="616" width="1" height="4" fill="#c0c0c0"/>
<rect x="1329" y="616" width="1" height="4" fill="#c0c0c0"/>
<rect x="1337" y="618" width="1" height="2" fill="#c0c0c0"/>
<rect x="1345" y="619" width="1" height="1" fill="#c0c0c0"/>
<rect x="1353" y="619" width="1" height="1" fill="#c0c0c0"/>
<rect x="1361" y="619" width="1" height="1" fill="#c0c0c0"/>
<rect x="1369" y="619" width="1" height="1" fill="#c0c0c0"/>
<rect x="1377" y="619" width="1" height="7" fill="#c0c0c0"/>
<rect x="1385" y="619" width="1" height="10" fill="#c0c0c0"/>
<rect x="1393" y="619" width="1" height="11" fill="#c0c0c0"/>
<rect x="1401" y="619" width="1" height="15" fill="#c0c0c0"/>
<rect x="1409" y="619" width="1" height="19" fill="#c0c0c0"/>
<rect x="1417" y="619" width="1" height="27" fill="#c0c0c0"/>
<rect x="1425" y="619" width="1" height="33" fill="#c0c0c0"/>
<rect x="1433" y="619" width="1" height="33" fill="#c0c0c0"/>
<rect x="1441" y="619" width="1" height="33" fill="#c0c0c0"/>
<rect x="1449" y="619" width="1" height="29" fill="#c0c0c0"/>
<rect x="1457" y="619" width="1" height="25" fill="#c0c0c0"/>
<rect x="1465" y="619" width="1" height="22" fill="#c0c0c0"/>
<rect x="1473" y="619" width="1" height="20" fill="#c0c0c0"/>
<rect x="1481" y="619" width="1" height="21" fill="#c0c0c0"/>
<rect x="1489" y="619" width="1" height="21" fill="#c0c0c0"/>
<rect x="1497" y="619" width="1" height="21" fill="#c0c0c0"/>
<rect x="1505" y="619" width="1" height="21" fill="#c0c0c0"/>
<rect x="1513" y="619" width="1" height="21" fill="#c0c0c0"/>
<rect x="1521" y="619" width="1" height="21" fill="#c0c0c0"/>
<rect x="1529" y="619" width="1" height="25" fill="#c0c0c0"/>
<rect x="1537" y="619" width="1" height="23" fill="#c0c0c0"/>
<rect x="1545" y="619" width="1" height="17" fill="#c0c0c0"/>
<rect x="1553" y="619" width="1" height="13" fill="#c0c0c0"/>
<rect x="1561" y="619" width="1" height="10" fill="#c0c0c0"/>
<rect x="1569" y="619" width="1" height="7" fill="#c0c0c0"/>
<rect x="1577" y="619" width="1" height="5" fill="#c0c0c0"/>
<rect x="1585" y="619" width="1" height="3" fill="#c0c0c0"/>
<rect x="1593" y="619" width="1" height="1" fill="#c0c0c0"/>
<rect x="1601" y="614" width="1" height="6" fill="#c0c0c0"/>
<rect x="1609" y="611" width="1" height="9" fill="#c0c0c0"/>
<rect x="1617" y="604" width="1" height="16" fill="#c0c0c0"/>
<rect x="1625" y="600" width="1" height="20" fill="#c0c0c0"/>
<rect x="1633" y="598" width="1" height="22" fill="#c0c0c0"/>
<rect x="1641" y="598" width="1" height="22" fill="#c0c0c0"/>
<rect x="1649" y="597" width="1" height="23" fill="#c0c0c0"/>
<rect x="1657" y="593" width="1" height="27" fill="#c0c0c0"/>
<rect x="1665" y="590" width="1" height="30" fill="#c0c0c0"/>
</g>
<polyline points="0,622 15,627 25,630 37.5,635 50,639.5 65,640.5 85,636 100,630 115,622.5 130,616 145,611 155,609 175,607.5 200,605.5 240,605.5 250,609 265,612.5 280,619.5 295,625 310,627.5 322.5,627.5 335,625 350,619 365,611 380,604 395,597.5 420,597.5 440,596.75 457.5,592.5 472.5,588 487.5,581 505,577.5 520,576.5 530,577 545,581 560,586 580,592 595,599 610,605 625,608 640,611 652.5,614 665,619 675,621 690,628 705,636 720,645 730,649.5 745,652 760,652 775,649 790,642.5 805,635 820,629 835,622.5 840,619.5 847.5,617.5 862.5,618 877.5,620.5 892.5,624.5 907.5,630.5 922.5,634 940,636 955,636 975,634 995,631 1015,628 1035,626 1065,626 1080,624.5 1105,623.5 1125,626 1135,631 1147.5,640 1160,650 1172.5,661 1185,670 1195,676 1207.5,678 1220,676 1235,669 1250,660 1260,654 1275,646 1290,640 1305,634 1320,627.5 1337.5,621 1355,619.5 1370,617.5 1385,619.5 1397.5,621 1410,627 1425,632.5 1440,640 1455,644 1472.5,646 1487.5,646 1500,644 1520,641.5 1537.5,641.5 1555,639 1570,637.5 1585,633 1600,628 1615,621 1630,614 1645,607.5 1660,602.5 1665,600" fill="none" stroke="#ff0000" stroke-width="1" shape-rendering="crispEdges" stroke-dasharray="3 3"/>
</g>
<g clip-path="url(#c3)">
<g shape-rendering="crispEdges"><line x1="1" y1="731.5" x2="1686" y2="731.5" stroke="#c0c0c0" stroke-width="1" stroke-dasharray="3 3"/>
<line x1="1" y1="781.5" x2="1686" y2="781.5" stroke="#c0c0c0" stroke-width="1" stroke-dasharray="3 3"/></g>
<polyline points="1.5,769.5 9.5,768.5 17.5,764 25.5,777 33.5,768.5 41.5,767.5 49.5,764 57.5,749 65.5,747.5 73.5,746.5 81.5,749 89.5,747.5 97.5,749 105.5,751.5 113.5,751.5 121.5,744 129.5,742 137.5,741 145.5,756 153.5,757.5 161.5,754 169.5,752 177.5,747.5 185.5,745.5 193.5,740.5 201.5,743 209.5,750 217.5,761 225.5,760.5 233.5,757.5 241.5,768.5 249.5,768.5 257.5,767.5 265.5,769.5 273.5,760.5 281.5,763.5 289.5,755.5 297.5,763 305.5,763 313.5,749 321.5,745.5 329.5,738.5 337.5,740.5 345.5,740.5 353.5,739.5 361.5,741.5 369.5,742.5 377.5,746.5 385.5,743.5 393.5,754.5 401.5,756.5 409.5,754.5 417.5,752 425.5,735 433.5,730.5 441.5,732.5 449.5,731.5 457.5,731.5 465.5,729 473.5,732.5 481.5,734.5 489.5,740.5 497.5,736 505.5,738.5 513.5,737 521.5,749.5 529.5,747.5 537.5,747.5 545.5,757.5 553.5,750 561.5,751.5 569.5,758.5 577.5,752.5 585.5,760.5 593.5,760.5 601.5,758.5 609.5,758.5 617.5,747.5 625.5,752.5 633.5,758.5 641.5,762 649.5,770.5 657.5,769 665.5,776 673.5,777.5 681.5,779 689.5,780.5 697.5,783.5 705.5,775.5 713.5,778.5 721.5,772.5 729.5,770.5 737.5,769 745.5,758.5 753.5,761 761.5,762.5 769.5,758 777.5,744.5 785.5,743 793.5,743 801.5,743 809.5,756.5 817.5,755 825.5,751 833.5,750 841.5,754 849.5,758 857.5,770 865.5,774 873.5,773.5 881.5,770 889.5,774 897.5,767.5 905.5,758 913.5,756 921.5,763 929.5,764.5 937.5,772.5 945.5,766 953.5,752 961.5,755.5 969.5,754 977.5,752 985.5,761 993.5,762.5 1001.5,760.5 1009.5,752.5 1017.5,757 1025.5,761 1033.5,763.5 1041.5,756 1049.5,761.5 1057.5,758.5 1065.5,754 1073.5,752 1081.5,751 1089.5,752.5 1097.5,762 1105.5,762 1113.5,781 1121.5,783.5 1129.5,784.5 1137.5,793.5 1145.5,790.5 1153.5,790.5 1161.5,780 1169.5,778 1177.5,781.5 1185.5,780.5 1193.5,761 1201.5,762 1209.5,760.5 1217.5,760.5 1225.5,757.5 1233.5,757.5 1241.5,756 1249.5,761 1257.5,764.5 1265.5,761 1273.5,750 1281.5,753.5 1289.5,757.5 1297.5,744 1305.5,747.5 1313.5,750.5 1321.5,754 1329.5,755.5 1337.5,759.5 1345.5,757 1353.5,757 1361.5,757 1369.5,761 1377.5,773.5 1385.5,765 1393.5,763 1401.5,771 1409.5,771 1417.5,782.5 1425.5,779.5 1433.5,769.5 1441.5,767.5 1449.5,758.5 1457.5,758.5 1465.5,759.5 1473.5,758.5 1481.5,766.5 1489.5,768.5 1497.5,761.5 1505.5,764.5 1513.5,765.5 1521.5,766.5 1529.5,774.5 1537.5,762 1545.5,750 1553.5,752 1561.5,754.5 1569.5,753.5 1577.5,753.5 1585.5,756.5 1593.5,744 1601.5,746.5 1609.5,745.5 1617.5,738.5 1625.5,740.5 1633.5,742 1641.5,747.5 1649.5,745 1657.5,737 1665.5,738.5" fill="none" stroke="#1e90ff" stroke-width="1" shape-rendering="crispEdges" />
</g>
<g shape-rendering="crispEdges" fill="#000">
<rect x="0" y="2" width="1" height="817"/>
<rect x="0" y="2" width="1687" height="1"/>
<rect x="1686" y="2" width="1" height="563"/>
<rect x="0" y="564" width="1687" height="1"/>
<rect x="0" y="566" width="1687" height="1"/>
<rect x="1686" y="566" width="1" height="126"/>
<rect x="0" y="691" width="1687" height="1"/>
<rect x="0" y="693" width="1687" height="1"/>
<rect x="1686" y="693" width="1" height="126"/>
<rect x="0" y="818" width="1687" height="1"/>
<rect x="1687" y="33" width="2" height="1"/>
<rect x="1687" y="66" width="2" height="1"/>
<rect x="1687" y="99" width="2" height="1"/>
<rect x="1687" y="132" width="2" height="1"/>
<rect x="1687" y="165" width="2" height="1"/>
<rect x="1687" y="198" width="2" height="1"/>
<rect x="1687" y="231" width="2" height="1"/>
<rect x="1687" y="264" width="2" height="1"/>
<rect x="1687" y="297" width="2" height="1"/>
<rect x="1687" y="330" width="2" height="1"/>
<rect x="1687" y="363" width="2" height="1"/>
<rect x="1687" y="396" width="2" height="1"/>
<rect x="1687" y="429" width="2" height="1"/>
<rect x="1687" y="462" width="2" height="1"/>
<rect x="1687" y="495" width="2" height="1"/>
<rect x="1687" y="528" width="2" height="1"/>
<rect x="1687" y="561" width="2" height="1"/>
<rect x="1687" y="567" width="2" height="1"/>
<rect x="1687" y="619" width="2" height="1"/>
<rect x="1687" y="690" width="2" height="1"/>
<rect x="1687" y="695" width="2" height="1"/>
<rect x="1687" y="731" width="2" height="1"/>
<rect x="1687" y="781" width="2" height="1"/>
<rect x="1687" y="817" width="2" height="1"/>
<rect x="1" y="819" width="1" height="3"/>
<rect x="65" y="819" width="1" height="3"/>
<rect x="129" y="819" width="1" height="3"/>
<rect x="193" y="819" width="1" height="3"/>
<rect x="257" y="819" width="1" height="3"/>
<rect x="321" y="819" width="1" height="3"/>
<rect x="385" y="819" width="1" height="3"/>
<rect x="449" y="819" width="1" height="3"/>
<rect x="513" y="819" width="1" height="3"/>
<rect x="577" y="819" width="1" height="3"/>
<rect x="641" y="819" width="1" height="3"/>
<rect x="705" y="819" width="1" height="3"/>
<rect x="769" y="819" width="1" height="3"/>
<rect x="833" y="819" width="1" height="3"/>
<rect x="897" y="819" width="1" height="3"/>
<rect x="961" y="819" width="1" height="3"/>
<rect x="1025" y="819" width="1" height="3"/>
<rect x="1089" y="819" width="1" height="3"/>
<rect x="1153" y="819" width="1" height="3"/>
<rect x="1217" y="819" width="1" height="3"/>
<rect x="1281" y="819" width="1" height="3"/>
<rect x="1345" y="819" width="1" height="3"/>
<rect x="1409" y="819" width="1" height="3"/>
<rect x="1473" y="819" width="1" height="3"/>
<rect x="1537" y="819" width="1" height="3"/>
<rect x="1601" y="819" width="1" height="3"/>
<rect x="1665" y="819" width="1" height="3"/>
<rect x="4" y="9" width="7" height="1"/><rect x="5" y="10" width="5" height="1"/><rect x="6" y="11" width="3" height="1"/><rect x="7" y="12" width="1" height="1"/>
</g>
<text x="1691.5" y="37" textLength="28.6" lengthAdjust="spacingAndGlyphs" xml:space="preserve">5376.0</text>
<text x="1691.5" y="70" textLength="28.6" lengthAdjust="spacingAndGlyphs" xml:space="preserve">5330.0</text>
<text x="1691.5" y="103" textLength="28.6" lengthAdjust="spacingAndGlyphs" xml:space="preserve">5284.0</text>
<text x="1691.5" y="136" textLength="28.6" lengthAdjust="spacingAndGlyphs" xml:space="preserve">5238.0</text>
<text x="1691.5" y="169" textLength="28.6" lengthAdjust="spacingAndGlyphs" xml:space="preserve">5192.0</text>
<text x="1691.5" y="202" textLength="28.6" lengthAdjust="spacingAndGlyphs" xml:space="preserve">5146.0</text>
<text x="1691.5" y="235" textLength="28.6" lengthAdjust="spacingAndGlyphs" xml:space="preserve">5100.0</text>
<text x="1691.5" y="268" textLength="28.6" lengthAdjust="spacingAndGlyphs" xml:space="preserve">5054.0</text>
<text x="1691.5" y="334" textLength="28.6" lengthAdjust="spacingAndGlyphs" xml:space="preserve">4962.0</text>
<text x="1691.5" y="367" textLength="28.6" lengthAdjust="spacingAndGlyphs" xml:space="preserve">4916.0</text>
<text x="1691.5" y="400" textLength="28.6" lengthAdjust="spacingAndGlyphs" xml:space="preserve">4870.0</text>
<text x="1691.5" y="433" textLength="28.6" lengthAdjust="spacingAndGlyphs" xml:space="preserve">4824.0</text>
<text x="1691.5" y="466" textLength="28.6" lengthAdjust="spacingAndGlyphs" xml:space="preserve">4778.0</text>
<text x="1691.5" y="532" textLength="28.6" lengthAdjust="spacingAndGlyphs" xml:space="preserve">4686.0</text>
<text x="1691.5" y="565" textLength="28.6" lengthAdjust="spacingAndGlyphs" xml:space="preserve">4640.0</text>
<g shape-rendering="crispEdges">
<rect x="1688" y="183" width="33" height="11" fill="#ff0000"/>
<rect x="1688" y="287" width="33" height="10" fill="#000"/>
<rect x="1688" y="297" width="33" height="11" fill="#22c022"/>
<rect x="1688" y="405" width="33" height="11" fill="#3a62e0"/>
<rect x="1688" y="491" width="33" height="11" fill="#3a62e0"/>
</g>
<text x="1691.5" y="192" textLength="28.6" lengthAdjust="spacingAndGlyphs" style="fill:#fff;stroke:#fff" xml:space="preserve">5160.0</text>
<text x="1691.5" y="296" textLength="28.6" lengthAdjust="spacingAndGlyphs" style="fill:#fff;stroke:#fff" xml:space="preserve">5015.2</text>
<text x="1691.5" y="306" textLength="28.6" lengthAdjust="spacingAndGlyphs" style="fill:#fff;stroke:#fff" xml:space="preserve">5000.0</text>
<text x="1691.5" y="414" textLength="28.6" lengthAdjust="spacingAndGlyphs" style="fill:#fff;stroke:#fff" xml:space="preserve">4850.0</text>
<text x="1691.5" y="500" textLength="28.6" lengthAdjust="spacingAndGlyphs" style="fill:#fff;stroke:#fff" xml:space="preserve">4730.0</text>
<text x="1689.7" y="577" textLength="23.6" lengthAdjust="spacingAndGlyphs" xml:space="preserve">71.83</text>
<text x="1689.7" y="623" textLength="18.5" lengthAdjust="spacingAndGlyphs" xml:space="preserve">0.00</text>
<text x="1689.5" y="688" textLength="26.7" lengthAdjust="spacingAndGlyphs" xml:space="preserve">-98.25</text>
<text x="1690.2" y="704" textLength="15.1" lengthAdjust="spacingAndGlyphs" xml:space="preserve">100</text>
<text x="1689.6" y="735" textLength="9.7" lengthAdjust="spacingAndGlyphs" xml:space="preserve">70</text>
<text x="1689.6" y="785" textLength="9.7" lengthAdjust="spacingAndGlyphs" xml:space="preserve">30</text>
<text x="1689.8" y="814.5" textLength="4.8" lengthAdjust="spacingAndGlyphs" xml:space="preserve">0</text>
<text x="15.5" y="14" textLength="65.9" lengthAdjust="spacingAndGlyphs" xml:space="preserve">CHINA300-,H4</text>
<text x="86.7" y="14" textLength="28.8" lengthAdjust="spacingAndGlyphs" xml:space="preserve">5020.7</text>
<text x="117.8" y="14" textLength="28.8" lengthAdjust="spacingAndGlyphs" xml:space="preserve">5037.2</text>
<text x="148.9" y="14" textLength="28.8" lengthAdjust="spacingAndGlyphs" xml:space="preserve">5003.4</text>
<text x="179.8" y="14" textLength="28.8" lengthAdjust="spacingAndGlyphs" xml:space="preserve">5015.2</text>
<text x="5" y="579" textLength="118.4" lengthAdjust="spacingAndGlyphs" xml:space="preserve">MACD(12,26,9) 41.88 27.34</text>
<text x="4.5" y="706" textLength="68.9" lengthAdjust="spacingAndGlyphs" xml:space="preserve">RSI(14) 64.6919</text>
<text x="0.1" y="831" textLength="50.4" lengthAdjust="spacingAndGlyphs" xml:space="preserve">13 Apr 2021</text>
<text x="64.1" y="831" textLength="54.4" lengthAdjust="spacingAndGlyphs" xml:space="preserve">19 Apr 05:00</text>
<text x="128.1" y="831" textLength="54.4" lengthAdjust="spacingAndGlyphs" xml:space="preserve">23 Apr 05:00</text>
<text x="192.1" y="831" textLength="54.4" lengthAdjust="spacingAndGlyphs" xml:space="preserve">29 Apr 05:00</text>
<text x="256.1" y="831" textLength="57.9" lengthAdjust="spacingAndGlyphs" xml:space="preserve">10 May 05:00</text>
<text x="320.1" y="831" textLength="57.9" lengthAdjust="spacingAndGlyphs" xml:space="preserve">14 May 05:00</text>
<text x="384.1" y="831" textLength="57.9" lengthAdjust="spacingAndGlyphs" xml:space="preserve">20 May 05:00</text>
<text x="448.1" y="831" textLength="57.9" lengthAdjust="spacingAndGlyphs" xml:space="preserve">26 May 05:00</text>
<text x="512.1" y="831" textLength="47.7" lengthAdjust="spacingAndGlyphs" xml:space="preserve">1 Jun 05:00</text>
<text x="576.1" y="831" textLength="47.7" lengthAdjust="spacingAndGlyphs" xml:space="preserve">7 Jun 05:00</text>
<text x="640.1" y="831" textLength="52.5" lengthAdjust="spacingAndGlyphs" xml:space="preserve">11 Jun 05:00</text>
<text x="704.1" y="831" textLength="52.5" lengthAdjust="spacingAndGlyphs" xml:space="preserve">18 Jun 05:00</text>
<text x="768.1" y="831" textLength="52.5" lengthAdjust="spacingAndGlyphs" xml:space="preserve">24 Jun 05:00</text>
<text x="832.1" y="831" textLength="52.5" lengthAdjust="spacingAndGlyphs" xml:space="preserve">30 Jun 05:00</text>
<text x="896.1" y="831" textLength="44.8" lengthAdjust="spacingAndGlyphs" xml:space="preserve">6 Jul 05:00</text>
<text x="960.1" y="831" textLength="49.6" lengthAdjust="spacingAndGlyphs" xml:space="preserve">12 Jul 05:00</text>
<text x="1024.1" y="831" textLength="49.6" lengthAdjust="spacingAndGlyphs" xml:space="preserve">16 Jul 05:00</text>
<text x="1088.1" y="831" textLength="49.6" lengthAdjust="spacingAndGlyphs" xml:space="preserve">22 Jul 05:00</text>
<text x="1152.1" y="831" textLength="49.6" lengthAdjust="spacingAndGlyphs" xml:space="preserve">28 Jul 05:00</text>
<text x="1216.1" y="831" textLength="50.9" lengthAdjust="spacingAndGlyphs" xml:space="preserve">3 Aug 05:00</text>
<text x="1280.1" y="831" textLength="50.9" lengthAdjust="spacingAndGlyphs" xml:space="preserve">9 Aug 05:00</text>
<text x="1344.1" y="831" textLength="55.7" lengthAdjust="spacingAndGlyphs" xml:space="preserve">13 Aug 05:00</text>
<text x="1408.1" y="831" textLength="55.7" lengthAdjust="spacingAndGlyphs" xml:space="preserve">19 Aug 05:00</text>
<text x="1472.1" y="831" textLength="55.7" lengthAdjust="spacingAndGlyphs" xml:space="preserve">25 Aug 05:00</text>
<text x="1536.1" y="831" textLength="55.7" lengthAdjust="spacingAndGlyphs" xml:space="preserve">31 Aug 05:00</text>
<text x="1600.1" y="831" textLength="49.8" lengthAdjust="spacingAndGlyphs" xml:space="preserve">6 Sep 05:00</text>
<text x="1664.1" y="831" textLength="54.6" lengthAdjust="spacingAndGlyphs" xml:space="preserve">10 Sep 05:00</text>
<g fill="none" stroke="#ed1c24" stroke-width="2.8" stroke-linecap="butt" stroke-linejoin="miter" stroke-miterlimit="1.8">
<path d="M1042.32 87.32 L1028.02 98.13"/>
<path d="M1038.83 92.06 L1056.61 92.06 Q1047.89 100.92 1026.97 106.36"/>
<path d="M1036.74 96.74 L1041.62 100.92"/>
<path d="M1047.89 102.32 L1029.41 113.33"/>
<path d="M1044.41 105.31 L1058.49 105.31 Q1049.99 117.66 1027.67 121.14"/>
<path d="M1040.92 111.73 L1044.76 115.22"/>
</g>
<g fill="none" stroke="#ed1c24" stroke-width="2.8" stroke-linecap="butt" stroke-linejoin="miter" stroke-miterlimit="1.8">
<path d="M1077.88 87.53 L1080.11 91.51"/>
<path d="M1064.42 98.83 L1064.42 92.97 L1093.71 92.97 L1093.71 98.83"/>
<path d="M1075.09 96.88 L1062.68 105.66"/>
<path d="M1082.76 96.88 L1095.31 105.66"/>
<path d="M1066.37 106.92 L1091.27 106.92"/>
<path d="M1078.93 106.92 L1078.93 118.77"/>
<path d="M1062.89 118.77 L1095.1 118.77"/>
</g>
<g fill="none" stroke="#ed1c24" stroke-width="2.8" stroke-linecap="butt" stroke-linejoin="miter" stroke-miterlimit="1.8">
<path d="M1098.1 93.81 L1112.61 93.81"/>
<path d="M1105.63 87.32 L1099.5 105.38 L1112.61 105.38"/>
<path d="M1106.68 97.43 L1106.68 121.98"/>
<path d="M1097.75 114.17 L1112.89 111.73"/>
<path d="M1114.84 93.81 L1131.02 93.81"/>
<path d="M1113.1 100.78 L1132.27 100.78"/>
<path d="M1121.67 87.32 L1117.42 107.62 L1130.53 107.62 L1122.86 115.7"/>
<path d="M1115.89 112.78 L1127.39 121.14"/>
</g>
<g fill="none" stroke="#ed1c24" stroke-width="2.8" stroke-linecap="butt" stroke-linejoin="miter" stroke-miterlimit="1.8">
<path d="M1134.3 95.76 L1145.94 95.76"/>
<path d="M1140.08 87.67 L1140.08 118.21 Q1140.08 120.1 1134.3 120.1"/>
<path d="M1133.6 107.68 L1145.24 104.13"/>
<path d="M1166.86 89.76 L1149.29 91.72"/>
<path d="M1149.29 91.16 L1149.29 106.5 Q1149.29 114.87 1144.76 121.28"/>
<path d="M1149.29 102.18 L1168.47 102.18"/>
<path d="M1160.59 102.18 L1160.59 121.98"/>
</g>
<g fill="none" stroke="#ed1c24" stroke-width="2.8" stroke-linecap="butt" stroke-linejoin="miter" stroke-miterlimit="1.8">
<path d="M1186.46 87.18 L1186.46 98.83"/>
<path d="M1186.46 92.97 L1203.82 92.97"/>
<path d="M1175.58 111.17 L1175.58 98.9 L1198.8 98.9 L1198.8 111.17"/>
<path d="M1175.58 109.08 L1198.8 109.08"/>
<path d="M1175.09 113.47 L1170.91 120.93"/>
<path d="M1181.37 113.12 L1183.81 120.59"/>
<path d="M1190.08 112.78 L1192.87 120.24"/>
<path d="M1198.45 113.12 L1202.98 120.93"/>
</g>
<text transform="translate(1206.6,117.5) scale(0.95,1)" style="font-size:39px;fill:#ed1c24;stroke:none">5000</text>
</svg></body></html>
